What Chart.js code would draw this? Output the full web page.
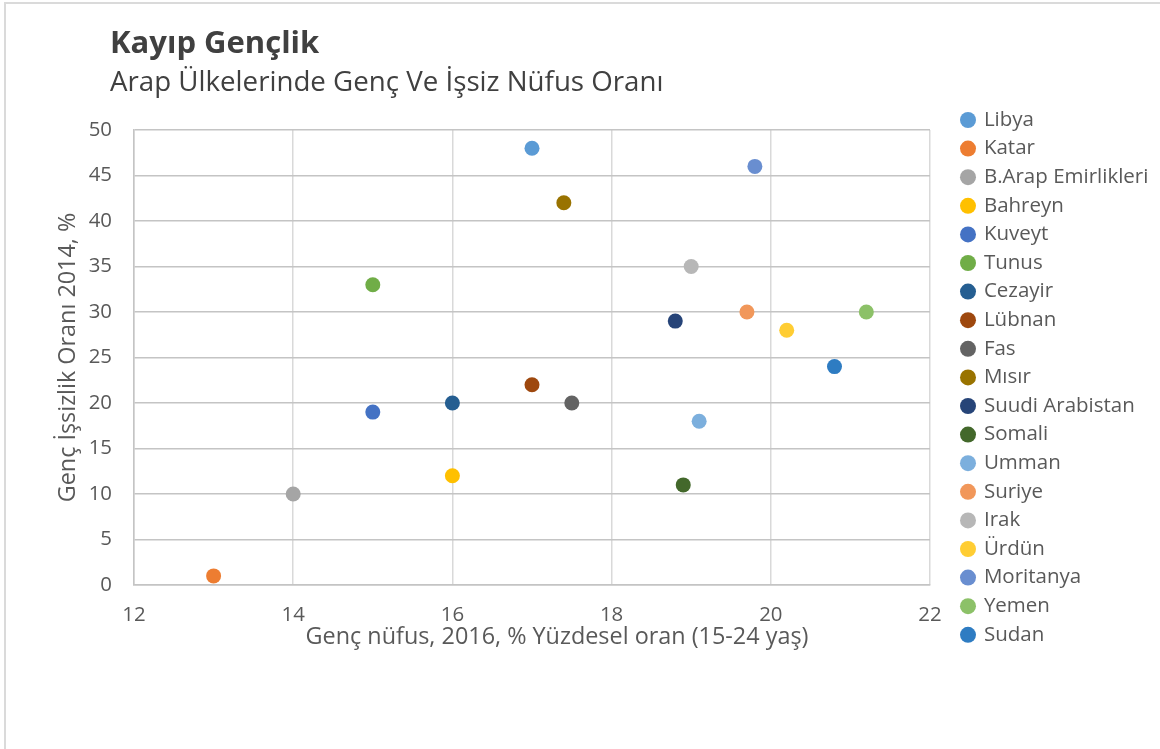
<!DOCTYPE html>
<html>
<head>
<meta charset="utf-8">
<script src="https://cdn.jsdelivr.net/npm/chart.js@4.4.1/dist/chart.umd.min.js"></script>
<style>
  html, body { margin: 0; padding: 0; background: #ffffff; }
  #frame { position: absolute; left: 4px; top: 2px; width: 1200px; height: 800px;
           border-left: 2px solid #dadada; border-top: 2px solid #dadada; }
  #wrap { position: absolute; left: 0; top: 0; width: 1160px; height: 749px; }
</style>
</head>
<body>
<div id="frame"></div>
<div id="wrap"><canvas id="c" width="1160" height="749"></canvas></div>
<script>
// ---- data ----
const countries = ['Libya', 'Katar', 'B.Arap Emirlikleri', 'Bahreyn', 'Kuveyt', 'Tunus', 'Cezayir',
  'Lübnan', 'Fas', 'Mısır', 'Suudi Arabistan', 'Somali', 'Umman', 'Suriye', 'Irak', 'Ürdün',
  'Moritanya', 'Yemen', 'Sudan'];
const youthShare2016 = [17, 13, 14, 16, 15, 15, 16, 17, 17.5, 17.4, 18.8, 18.9, 19.1, 19.7, 19.0, 20.2, 19.8, 21.2, 20.8];
const youthUnemployment2014 = [48, 1, 10, 12, 19, 33, 20, 22, 20, 42, 29, 11, 18, 30, 35, 28, 46, 30, 24];
const xTickValues = [12, 14, 16, 18, 20, 22];
const yTickValues = [0, 5, 10, 15, 20, 25, 30, 35, 40, 45, 50];

const titleText = 'Kayıp Gençlik';
const subtitleText = 'Arap Ülkelerinde Genç Ve İşsiz Nüfus Oranı';
const xTitle = 'Genç nüfus, 2016, % Yüzdesel oran (15-24 yaş)';
const yTitle = 'Genç İşsizlik Oranı 2014, %';

// ---- styles ----
const palette = ['#5B9BD5', '#ED7D31', '#A5A5A5', '#FFC000', '#4472C4', '#70AD47', '#255E91',
  '#9E480E', '#636363', '#997300', '#264478', '#43682B', '#7CAFDD', '#F1975A', '#B7B7B7',
  '#FFCD33', '#698ED0', '#8CC168', '#2E7CC2'];

const FONT = '"Open Sans", "Noto Sans", sans-serif';
Chart.defaults.font.family = FONT;

const datasets = countries.map((name, i) => ({
  label: name,
  data: [{ x: youthShare2016[i], y: youthUnemployment2014[i] }],
  backgroundColor: palette[i],
  borderColor: palette[i],
  pointRadius: 7.5,
  pointHoverRadius: 8,
  pointStyle: 'circle',
  borderWidth: 0
}));

// place legend block, title blocks and x-axis title where the original has them
const blockPlacer = {
  id: 'blockPlacer',
  afterLayout(chart) {
    const l = chart.legend;
    if (l) { l.left = 954.25; l.right = 1230; l.top = 101.65; l.bottom = 749; }
    chart.boxes.forEach(b => {
      if (b.options && (b.options.text === titleText || b.options.text === subtitleText)) {
        b.left = 110;
      }
    });
    const xs = chart.scales.x;
    if (xs && !xs._titleShifted) {
      const orig = xs.drawTitle;
      xs.drawTitle = function () {
        const ctx = this.ctx;
        ctx.save();
        ctx.translate(25, 0);
        orig.call(this);
        ctx.restore();
      };
      xs._titleShifted = true;
    }
  }
};

new Chart(document.getElementById('c'), {
  type: 'scatter',
  data: { datasets },
  options: {
    responsive: false,
    animation: false,
    layout: { padding: { left: 0, right: 50, top: 0, bottom: 0 } },
    plugins: {
      title: {
        display: true, text: titleText, align: 'start', color: '#404040',
        font: { family: FONT, size: 31, weight: 'bold' },
        padding: { top: 25.4, bottom: 3.78 }
      },
      subtitle: {
        display: true, text: subtitleText, align: 'start', color: '#404040',
        font: { family: FONT, size: 27.7 },
        padding: { top: 0, bottom: 30.38 }
      },
      legend: {
        position: 'right', align: 'start', maxWidth: 180,
        labels: {
          usePointStyle: true, pointStyle: 'circle',
          boxWidth: 11.3, boxHeight: 11.3, padding: 8.1,
          color: '#595959', font: { family: FONT, size: 20.5 }
        }
      },
      tooltip: { enabled: false }
    },
    scales: {
      x: {
        type: 'linear', min: 12, max: 22,
        afterFit(s) { s.height = 164; },
        afterBuildTicks(s) { s.ticks = xTickValues.map(v => ({ value: v })); },
        grid: { color: '#d9d9d9', lineWidth: 1.5, drawTicks: false },
        border: { color: '#c4c4c4', width: 1.5 },
        ticks: { color: '#595959', padding: 17.8, font: { family: FONT, size: 20.4 } },
        title: {
          display: true, text: xTitle, color: '#595959',
          font: { family: FONT, size: 23.4 }, padding: { top: 0, bottom: 98 }
        }
      },
      y: {
        type: 'linear', min: 0, max: 50,
        afterFit(s) { s.width = 134; },
        afterBuildTicks(s) { s.ticks = yTickValues.map(v => ({ value: v })); },
        grid: { color: '#c4c4c4', lineWidth: 1.5, drawTicks: false },
        border: { color: '#c4c4c4', width: 1.5 },
        ticks: { color: '#595959', padding: 22, font: { family: FONT, size: 20.4 } },
        title: {
          display: true, text: yTitle, color: '#595959',
          font: { family: FONT, size: 23.4 }, padding: { top: 54, bottom: 0 }
        }
      }
    }
  },
  plugins: [blockPlacer]
});
</script>
</body>
</html>
